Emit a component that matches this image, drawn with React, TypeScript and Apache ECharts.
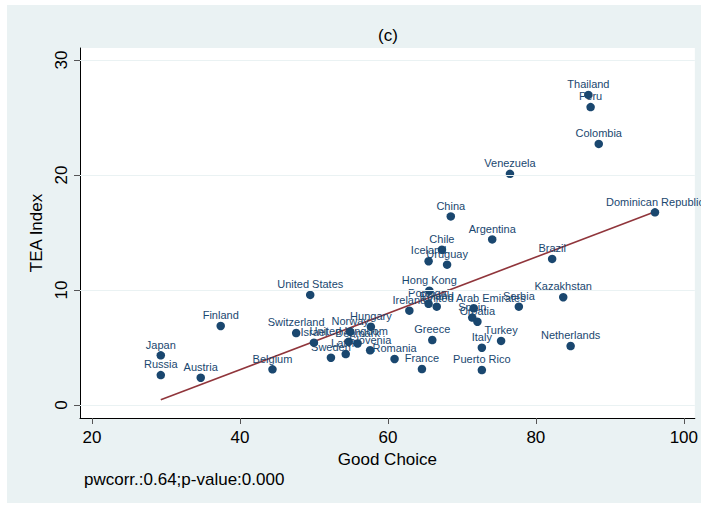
import { useEffect, useRef } from "react";
import * as echarts from "echarts";

// Country labels, "Good Choice" scores and TEA Index values
const countries = [
  "Japan", "Russia", "Austria", "Finland", "Belgium", "Switzerland",
  "United States", "Israel", "Sweden", "Latvia", "Norway", "United Kingdom",
  "Denmark", "Hungary", "Slovenia", "Romania", "Ireland", "France",
  "Hong Kong", "Portugal", "Poland", "Greece", "Iceland", "Chile",
  "Uruguay", "China", "United Arab Emirates", "Spain", "Croatia", "Italy",
  "Puerto Rico", "Argentina", "Turkey", "Venezuela", "Serbia", "Brazil",
  "Kazakhstan", "Netherlands", "Thailand", "Peru", "Colombia", "Dominican Republic",
];
const goodChoice = [
  29.3, 29.3, 34.7, 37.4, 44.4, 47.6,
  49.5, 50.0, 52.3, 54.3, 54.9, 54.7,
  55.9, 57.7, 57.6, 60.9, 62.9, 64.6,
  65.6, 65.5, 66.6, 66.0, 65.5, 67.3,
  68.0, 68.5, 71.6, 71.4, 72.1, 72.7,
  72.7, 74.1, 75.3, 76.5, 77.7, 82.2,
  83.7, 84.7, 87.1, 87.4, 88.5, 96.1,
];
const teaIndex = [
  4.32, 2.6, 2.37, 6.87, 3.1, 6.26,
  9.57, 5.42, 4.11, 4.43, 6.37, 5.5,
  5.35, 6.8, 4.76, 4.0, 8.2, 3.13,
  9.94, 8.8, 8.55, 5.65, 12.5, 13.5,
  12.2, 16.4, 8.41, 7.6, 7.24, 4.98,
  3.04, 14.4, 5.57, 20.1, 8.55, 12.7,
  9.37, 5.13, 26.96, 25.9, 22.7, 16.75,
];

// Linear fit endpoints (Good Choice, TEA Index)
const fitLine = [
  [29.3, 0.45],
  [96.1, 16.8],
];

const xTicks = [20, 40, 60, 80, 100];
const yTicks = [0, 10, 20, 30];

const titleText = "(c)";
const xName = "Good Choice";
const yName = "TEA Index";
const noteText = "pwcorr.:0.64;p-value:0.000";

const FONT = "'Liberation Sans', Arial, Helvetica, sans-serif";
const NAVY = "#1a476f";
const MAROON = "#90353b";
const PANEL = "#eaf2f3";

export default function App() {
  const ref = useRef<HTMLDivElement>(null);

  useEffect(() => {
    if (!ref.current) return;
    const chart = echarts.init(ref.current, undefined, { renderer: "svg" });

    const points = countries.map((name, i) => ({
      name,
      value: [goodChoice[i], teaIndex[i]],
    }));

    chart.setOption({
      animation: false,
      backgroundColor: PANEL,
      textStyle: { fontFamily: FONT },
      grid: {
        left: 73,
        top: 43,
        width: 615,
        height: 370,
        show: true,
        backgroundColor: "#ffffff",
        borderWidth: 0,
      },
      xAxis: {
        type: "value",
        min: 18.38,
        max: 101.49,
        axisLine: { show: true, onZero: false, lineStyle: { color: "#000", width: 1 } },
        axisTick: { show: true, customValues: xTicks, length: 6, lineStyle: { color: "#555" } },
        axisLabel: { customValues: xTicks, fontSize: 17, color: "#000", margin: 11, fontFamily: FONT },
        splitLine: { show: false },
        name: xName,
        nameLocation: "middle",
        nameGap: 27,
        nameTextStyle: { fontSize: 17, color: "#000", fontFamily: FONT },
      },
      yAxis: {
        type: "value",
        min: -1.13,
        max: 31.04,
        axisLine: { show: true, onZero: false, lineStyle: { color: "#000", width: 1 } },
        axisTick: { show: true, customValues: yTicks, length: 6, lineStyle: { color: "#555" } },
        axisLabel: { customValues: yTicks, rotate: 90, fontSize: 17, color: "#000", margin: 10, fontFamily: FONT },
        splitLine: { show: false },
        name: yName,
        nameLocation: "middle",
        nameGap: 30,
        nameRotate: 90,
        nameTextStyle: { fontSize: 17, color: "#000", fontFamily: FONT },
      },
      graphic: [
        {
          type: "text",
          x: 381,
          y: 30,
          style: {
            text: titleText,
            font: `17px ${FONT}`,
            fill: "#000",
            align: "center",
            verticalAlign: "middle",
            textAlign: "center",
            textVerticalAlign: "middle",
          },
        },
        {
          type: "text",
          x: 77,
          y: 474,
          style: {
            text: noteText,
            font: `17px ${FONT}`,
            fill: "#000",
            align: "left",
            verticalAlign: "middle",
            textAlign: "left",
            textVerticalAlign: "middle",
          },
        },
      ],
      series: [
        {
          // horizontal grid lines at the y ticks
          type: "line",
          data: [],
          z: 1,
          markLine: {
            silent: true,
            symbol: "none",
            label: { show: false },
            lineStyle: { color: PANEL, width: 1.2, type: "solid" },
            data: yTicks.map((v) => ({ yAxis: v })),
          },
        },
        {
          type: "line",
          data: fitLine,
          showSymbol: false,
          z: 2,
          lineStyle: { color: MAROON, width: 1.6 },
          itemStyle: { color: MAROON },
        },
        {
          type: "scatter",
          data: points,
          z: 3,
          symbolSize: 8.5,
          itemStyle: { color: NAVY, opacity: 1 },
          label: {
            show: true,
            position: "top",
            distance: 1,
            formatter: "{b}",
            fontSize: 11,
            color: NAVY,
            fontFamily: FONT,
          },
        },
      ],
    });

    return () => chart.dispose();
  }, []);

  return (
    <div
      style={{
        position: "fixed",
        left: 0,
        top: 0,
        width: 701,
        height: 505,
        background: "#ffffff",
      }}
    >
      <div
        ref={ref}
        style={{ position: "absolute", left: 7, top: 5, width: 694, height: 498 }}
      />
    </div>
  );
}
